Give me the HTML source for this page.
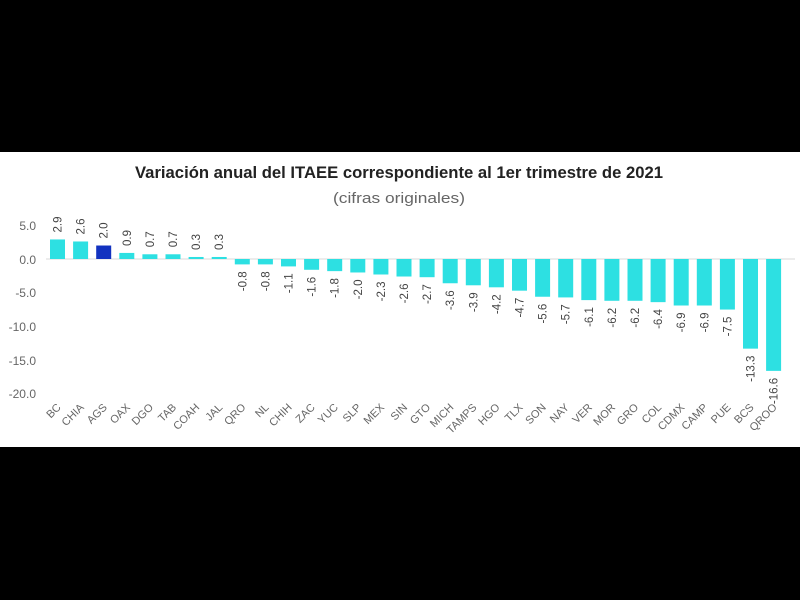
<!DOCTYPE html>
<html><head><meta charset="utf-8"><style>
html,body{margin:0;padding:0;background:#000;width:800px;height:600px;overflow:hidden}
svg{display:block}
</style></head><body>
<svg width="800" height="600" xmlns="http://www.w3.org/2000/svg" font-family="Liberation Sans, sans-serif">
<rect x="0" y="0" width="800" height="600" fill="#000"/>
<rect x="0" y="152" width="800" height="295" fill="#fff"/>
<text x="399" y="178" font-size="17" font-weight="bold" fill="#222" text-anchor="middle" textLength="528" lengthAdjust="spacingAndGlyphs">Variación anual del ITAEE correspondiente al 1er trimestre de 2021</text>
<text x="399" y="203" font-size="15" fill="#666" text-anchor="middle" textLength="132" lengthAdjust="spacingAndGlyphs">(cifras originales)</text>
<g font-size="12" fill="#666" text-anchor="end">
<text x="36" y="230">5.0</text>
<text x="36" y="264">0.0</text>
<text x="36" y="297">-5.0</text>
<text x="36" y="331">-10.0</text>
<text x="36" y="365">-15.0</text>
<text x="36" y="398">-20.0</text>
</g>
<line x1="46" y1="259" x2="795" y2="259" stroke="#d8d8d8" stroke-width="1"/>
<g fill="#2de0e2">
<rect x="50" y="239.45" width="15" height="19.55"/>
<rect x="73.1" y="241.48" width="15" height="17.52"/>
<rect x="96.2" y="245.52" width="15" height="13.48" fill="#1232c0"/>
<rect x="119.3" y="252.93" width="15" height="6.07"/>
<rect x="142.4" y="254.28" width="15" height="4.72"/>
<rect x="165.5" y="254.28" width="15" height="4.72"/>
<rect x="188.6" y="256.98" width="15" height="2.02"/>
<rect x="211.7" y="256.98" width="15" height="2.02"/>
<rect x="234.8" y="259" width="15" height="5.39"/>
<rect x="257.9" y="259" width="15" height="5.39"/>
<rect x="281" y="259" width="15" height="7.41"/>
<rect x="304.1" y="259" width="15" height="10.78"/>
<rect x="327.2" y="259" width="15" height="12.13"/>
<rect x="350.3" y="259" width="15" height="13.48"/>
<rect x="373.4" y="259" width="15" height="15.5"/>
<rect x="396.5" y="259" width="15" height="17.52"/>
<rect x="419.6" y="259" width="15" height="18.2"/>
<rect x="442.7" y="259" width="15" height="24.26"/>
<rect x="465.8" y="259" width="15" height="26.29"/>
<rect x="488.9" y="259" width="15" height="28.31"/>
<rect x="512" y="259" width="15" height="31.68"/>
<rect x="535.1" y="259" width="15" height="37.74"/>
<rect x="558.2" y="259" width="15" height="38.42"/>
<rect x="581.3" y="259" width="15" height="41.11"/>
<rect x="604.4" y="259" width="15" height="41.79"/>
<rect x="627.5" y="259" width="15" height="41.79"/>
<rect x="650.6" y="259" width="15" height="43.14"/>
<rect x="673.7" y="259" width="15" height="46.51"/>
<rect x="696.8" y="259" width="15" height="46.51"/>
<rect x="719.9" y="259" width="15" height="50.55"/>
<rect x="743" y="259" width="15" height="89.64"/>
<rect x="766.1" y="259" width="15" height="111.88"/>
</g>
<g font-size="11.5" fill="#444">
<text transform="translate(61.5,232.5) rotate(-90)">2.9</text>
<text transform="translate(84.6,234.5) rotate(-90)">2.6</text>
<text transform="translate(107.7,238.5) rotate(-90)">2.0</text>
<text transform="translate(130.8,246) rotate(-90)">0.9</text>
<text transform="translate(153.9,247.3) rotate(-90)">0.7</text>
<text transform="translate(177,247.3) rotate(-90)">0.7</text>
<text transform="translate(200.1,250) rotate(-90)">0.3</text>
<text transform="translate(223.2,250) rotate(-90)">0.3</text>
</g>
<g font-size="11.5" fill="#444" text-anchor="end">
<text transform="translate(246.3,271.4) rotate(-90)">-0.8</text>
<text transform="translate(269.4,271.4) rotate(-90)">-0.8</text>
<text transform="translate(292.5,273.4) rotate(-90)">-1.1</text>
<text transform="translate(315.6,276.8) rotate(-90)">-1.6</text>
<text transform="translate(338.7,278.1) rotate(-90)">-1.8</text>
<text transform="translate(361.8,279.5) rotate(-90)">-2.0</text>
<text transform="translate(384.9,281.5) rotate(-90)">-2.3</text>
<text transform="translate(408,283.5) rotate(-90)">-2.6</text>
<text transform="translate(431.1,284.2) rotate(-90)">-2.7</text>
<text transform="translate(454.2,290.3) rotate(-90)">-3.6</text>
<text transform="translate(477.3,292.3) rotate(-90)">-3.9</text>
<text transform="translate(500.4,294.3) rotate(-90)">-4.2</text>
<text transform="translate(523.5,297.7) rotate(-90)">-4.7</text>
<text transform="translate(546.6,303.7) rotate(-90)">-5.6</text>
<text transform="translate(569.7,304.4) rotate(-90)">-5.7</text>
<text transform="translate(592.8,307.1) rotate(-90)">-6.1</text>
<text transform="translate(615.9,307.8) rotate(-90)">-6.2</text>
<text transform="translate(639,307.8) rotate(-90)">-6.2</text>
<text transform="translate(662.1,309.1) rotate(-90)">-6.4</text>
<text transform="translate(685.2,312.5) rotate(-90)">-6.9</text>
<text transform="translate(708.3,312.5) rotate(-90)">-6.9</text>
<text transform="translate(731.4,316.6) rotate(-90)">-7.5</text>
<text transform="translate(754.5,355.6) rotate(-90)">-13.3</text>
<text transform="translate(777.6,377.9) rotate(-90)">-16.6</text>
</g>
<g font-size="11" fill="#666" text-anchor="end">
<text transform="translate(61.5,408) rotate(-45)">BC</text>
<text transform="translate(84.6,408) rotate(-45)">CHIA</text>
<text transform="translate(107.7,408) rotate(-45)">AGS</text>
<text transform="translate(130.8,408) rotate(-45)">OAX</text>
<text transform="translate(153.9,408) rotate(-45)">DGO</text>
<text transform="translate(177,408) rotate(-45)">TAB</text>
<text transform="translate(200.1,408) rotate(-45)">COAH</text>
<text transform="translate(223.2,408) rotate(-45)">JAL</text>
<text transform="translate(246.3,408) rotate(-45)">QRO</text>
<text transform="translate(269.4,408) rotate(-45)">NL</text>
<text transform="translate(292.5,408) rotate(-45)">CHIH</text>
<text transform="translate(315.6,408) rotate(-45)">ZAC</text>
<text transform="translate(338.7,408) rotate(-45)">YUC</text>
<text transform="translate(361.8,408) rotate(-45)">SLP</text>
<text transform="translate(384.9,408) rotate(-45)">MEX</text>
<text transform="translate(408,408) rotate(-45)">SIN</text>
<text transform="translate(431.1,408) rotate(-45)">GTO</text>
<text transform="translate(454.2,408) rotate(-45)">MICH</text>
<text transform="translate(477.3,408) rotate(-45)">TAMPS</text>
<text transform="translate(500.4,408) rotate(-45)">HGO</text>
<text transform="translate(523.5,408) rotate(-45)">TLX</text>
<text transform="translate(546.6,408) rotate(-45)">SON</text>
<text transform="translate(569.7,408) rotate(-45)">NAY</text>
<text transform="translate(592.8,408) rotate(-45)">VER</text>
<text transform="translate(615.9,408) rotate(-45)">MOR</text>
<text transform="translate(639,408) rotate(-45)">GRO</text>
<text transform="translate(662.1,408) rotate(-45)">COL</text>
<text transform="translate(685.2,408) rotate(-45)">CDMX</text>
<text transform="translate(708.3,408) rotate(-45)">CAMP</text>
<text transform="translate(731.4,408) rotate(-45)">PUE</text>
<text transform="translate(754.5,408) rotate(-45)">BCS</text>
<text transform="translate(777.6,408) rotate(-45)">QROO</text>
</g>
</svg>
</body></html>
